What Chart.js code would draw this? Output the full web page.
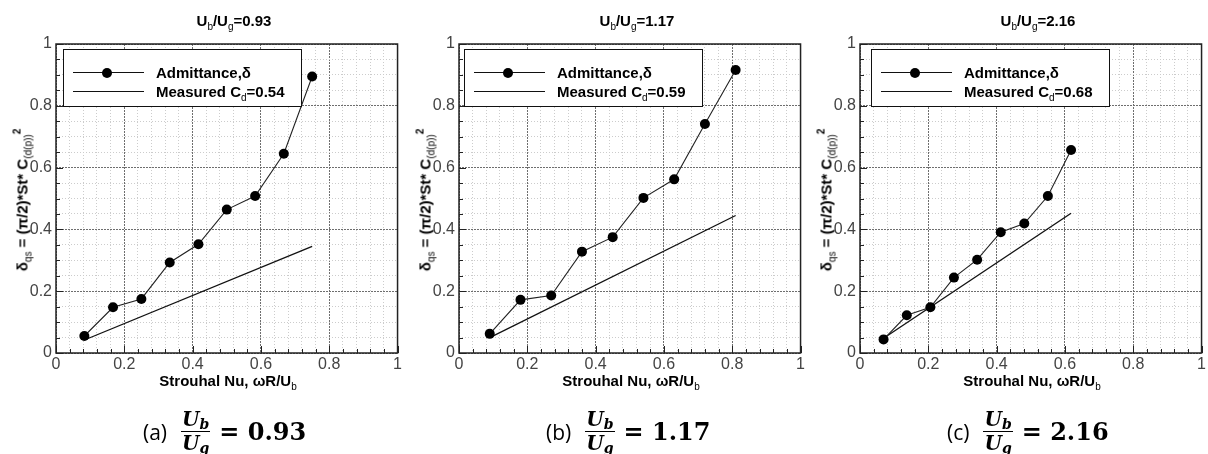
<!DOCTYPE html>
<html>
<head>
<meta charset="utf-8">
<script src="https://cdn.jsdelivr.net/npm/chart.js@4.4.1/dist/chart.umd.min.js"></script>
<style>
  body { margin: 0; background: #fff; width: 1208px; height: 454px; overflow: hidden; position: relative;
         font-family: "Liberation Sans", Arial, sans-serif; color: #000; }
  .panel { position: absolute; top: 0; width: 404px; height: 454px; }
  .panel canvas { position: absolute; left: 0; top: 0; }
  sub { font-size: 10px; line-height: 0; vertical-align: -4px; font-weight: normal; }
  sup { font-size: 10px; line-height: 0; vertical-align: 7px; font-weight: bold; }
  .titulo { position: absolute; top: 12px; left: 234px; transform: translateX(-50%);
            font-weight: bold; font-size: 15px; white-space: nowrap; }
  .ejeY { position: absolute; left: 22px; top: 200px; transform: translate(-50%, -50%) rotate(-90deg);
          font-weight: bold; font-size: 15px; white-space: nowrap; }
  .ejeX { position: absolute; left: 228px; top: 372px; transform: translateX(-50%);
          font-weight: bold; font-size: 15px; white-space: nowrap; }
  .leyenda { position: absolute; top: 49px; width: 237px; height: 56px; border: 1.5px solid #111; background: #fff; }
  .fila { position: absolute; left: 0; width: 100%; height: 19px; }
  .fila .linea { position: absolute; left: 9px; width: 71px; top: 9px; border-top: 1px solid #111; }
  .fila .punto { position: absolute; left: 38px; top: 5px; width: 10px; height: 10px; border-radius: 50%; background: #000; }
  .fila .texto { position: absolute; left: 92px; top: 0; font-weight: bold; font-size: 15px; line-height: 19px; white-space: nowrap; }
  .pie { position: absolute; left: 143px; top: 409px; display: flex; align-items: center; white-space: nowrap; }
  .pie .letra { font-family: "Open Sans", sans-serif; font-size: 21px; margin-right: 14px; }
  .frac { display: inline-flex; flex-direction: column; align-items: center; font-family: "DejaVu Serif", serif;
          font-weight: bold; font-style: italic; font-size: 20px; line-height: 21px; }
  .frac sub { font-size: 14px; vertical-align: -3px; font-weight: bold; }
  .frac .num { border-bottom: 1.5px solid #000; padding: 0 1px 1px; }
  .frac .den { padding-top: 1px; }
  .pie .igual { font-family: "DejaVu Serif", serif; font-weight: bold; font-size: 24px; margin-left: 9px; }
</style>
</head>
<body>
<script>
// Datos
const letras = ['a', 'b', 'c'];
const razones = ['0.93', '1.17', '2.16'];
const coefCd = ['0.54', '0.59', '0.68'];

const stA = [0.083, 0.167, 0.25, 0.333, 0.417, 0.5, 0.583, 0.667, 0.75];
const admA = [0.055, 0.148, 0.175, 0.293, 0.352, 0.464, 0.508, 0.645, 0.895];
const stMedA = [0.083, 0.75];
const medA = [0.042, 0.345];

const stB = [0.09, 0.18, 0.27, 0.36, 0.45, 0.54, 0.63, 0.72, 0.81];
const admB = [0.062, 0.172, 0.186, 0.328, 0.375, 0.502, 0.562, 0.741, 0.916];
const stMedB = [0.09, 0.81];
const medB = [0.05, 0.445];

const stC = [0.069, 0.137, 0.206, 0.275, 0.343, 0.412, 0.481, 0.55, 0.618];
const admC = [0.044, 0.122, 0.148, 0.244, 0.302, 0.391, 0.419, 0.508, 0.657];
const stMedC = [0.069, 0.618];
const medC = [0.048, 0.452];

const etiquetasX = ['0', '0.2', '0.4', '0.6', '0.8', '1'];
const etiquetasY = ['0', '0.2', '0.4', '0.6', '0.8', '1'];

const series = [
  { st: stA, adm: admA, stMed: stMedA, med: medA },
  { st: stB, adm: admB, stMed: stMedB, med: medB },
  { st: stC, adm: admC, stMed: stMedC, med: medC }
];
const desplazamientos = [0, 403, 804];
const leyendaIzq = [63, 61, 67];

function esMayor(v) {
  const k = v / 0.2;
  return Math.abs(k - Math.round(k)) < 1e-6;
}

function puntos(xs, ys) {
  return xs.map((x, i) => ({ x: x, y: ys[i] }));
}

// marco del grafico y marcas hacia dentro
const marcoPlugin = {
  id: 'marco',
  afterDraw(chart) {
    const { ctx, chartArea: a, scales: { x, y } } = chart;
    ctx.save();
    ctx.strokeStyle = '#222';
    ctx.lineWidth = 1;
    ctx.beginPath();
    x.ticks.forEach(t => {
      const px = Math.round(x.getPixelForValue(t.value)) + 0.5;
      const len = esMayor(t.value) ? 7 : 4;
      ctx.moveTo(px, a.bottom);
      ctx.lineTo(px, a.bottom - len);
    });
    y.ticks.forEach(t => {
      const py = Math.round(y.getPixelForValue(t.value)) + 0.5;
      const len = esMayor(t.value) ? 7 : 4;
      ctx.moveTo(a.left, py);
      ctx.lineTo(a.left + len, py);
    });
    ctx.stroke();
    ctx.lineWidth = 1.5;
    ctx.strokeRect(a.left, a.top, a.right - a.left, a.bottom - a.top);
    ctx.restore();
  }
};

Chart.defaults.font.family = '"Liberation Sans", Arial, sans-serif';

series.forEach((s, i) => {
  const panel = document.createElement('div');
  panel.className = 'panel';
  panel.style.left = desplazamientos[i] + 'px';
  panel.innerHTML = `
    <canvas width="404" height="375"></canvas>
    <div class="titulo">U<sub>b</sub>/U<sub>g</sub>=${razones[i]}</div>
    <div class="ejeY">&delta;<sub>qs</sub> = (&pi;/2)*St* C<sub>(d(p))</sub><sup>2</sup></div>
    <div class="ejeX">Strouhal Nu, &omega;R/U<sub>b</sub></div>
    <div class="leyenda" style="left:${leyendaIzq[i]}px">
      <div class="fila" style="top:13px"><div class="linea"></div><div class="punto"></div><div class="texto">Admittance,&delta;</div></div>
      <div class="fila" style="top:32px"><div class="linea"></div><div class="texto">Measured C<sub>d</sub>=${coefCd[i]}</div></div>
    </div>
    <div class="pie"><span class="letra">(${letras[i]})</span><span class="frac"><span class="num">U<sub>b</sub></span><span class="den">U<sub>g</sub></span></span><span class="igual">= ${razones[i]}</span></div>
  `;
  document.body.appendChild(panel);

  const ctx = panel.querySelector('canvas').getContext('2d');
  new Chart(ctx, {
    type: 'line',
    data: {
      datasets: [
        {
          label: 'Admittance,δ',
          data: puntos(s.st, s.adm),
          borderColor: '#222',
          borderWidth: 1.1,
          pointRadius: 5,
          pointBackgroundColor: '#000',
          pointBorderWidth: 0,
          tension: 0
        },
        {
          label: 'Measured Cd=' + coefCd[i],
          data: puntos(s.stMed, s.med),
          borderColor: '#111',
          borderWidth: 1.3,
          pointRadius: 0,
          tension: 0
        }
      ]
    },
    options: {
      responsive: false,
      animation: false,
      devicePixelRatio: 1,
      layout: { padding: { top: 44, right: 5, left: 0, bottom: 0 } },
      plugins: { legend: { display: false }, tooltip: { enabled: false }, title: { display: false } },
      scales: {
        x: {
          type: 'linear',
          min: 0,
          max: 1,
          afterFit: sc => { sc.height = 22; },
          ticks: {
            stepSize: 0.04,
            autoSkip: false,
            maxRotation: 0,
            padding: 2,
            color: '#444',
            font: { size: 16 },
            callback: v => esMayor(v) ? etiquetasX[Math.round(v / 0.2)] : ''
          },
          grid: {
            drawTicks: false,
            lineWidth: 1,
            color: c => esMayor(c.tick.value) ? '#6e6e6e' : '#cccccc'
          },
          border: { display: false, dash: c => esMayor(c.tick.value) ? [2, 1] : [1, 2] }
        },
        y: {
          min: 0,
          max: 1,
          afterFit: sc => { sc.width = 56; },
          ticks: {
            stepSize: 0.05,
            autoSkip: false,
            padding: 4,
            color: '#444',
            font: { size: 16 },
            callback: v => esMayor(v) ? etiquetasY[Math.round(v / 0.2)] : ''
          },
          grid: {
            drawTicks: false,
            lineWidth: 1,
            color: c => esMayor(c.tick.value) ? '#6e6e6e' : '#cccccc'
          },
          border: { display: false, dash: c => esMayor(c.tick.value) ? [2, 1] : [1, 2] }
        }
      }
    },
    plugins: [marcoPlugin]
  });
});
</script>
</body>
</html>
